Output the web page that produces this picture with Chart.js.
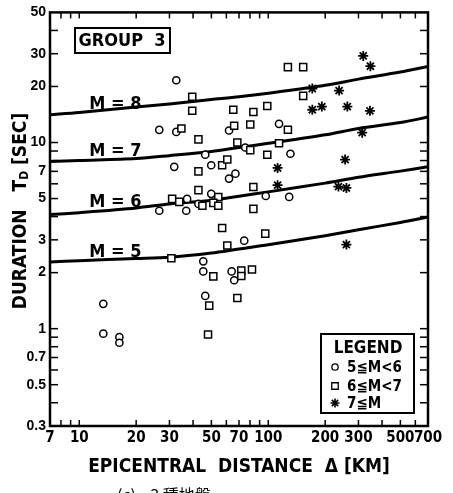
<!DOCTYPE html>
<html>
<head>
<meta charset="utf-8">
<script src="https://cdn.jsdelivr.net/npm/chart.js@4.4.1/dist/chart.umd.min.js"></script>
<style>
  html, body { margin: 0; padding: 0; background: #fff; }
  #wrap { width: 453px; height: 493px; position: relative; }
</style>
</head>
<body>
<div id="wrap"><canvas id="c" width="453" height="493"></canvas></div>
<script>
// ---------- data ----------
const curveDist = [7, 10, 20, 30, 50, 70, 100, 200, 300, 500, 700];
const curveM8 = [14.1, 14.5, 15.5, 16.1, 17.0, 17.6, 18.4, 20.3, 21.9, 23.9, 25.6];
const curveM7 = [7.9, 8.0, 8.2, 8.5, 8.95, 9.4, 9.9, 11.0, 11.9, 12.8, 13.7];
const curveM6 = [4.1, 4.2, 4.45, 4.68, 4.9, 5.15, 5.43, 6.05, 6.5, 7.02, 7.42];
const curveM5 = [2.28, 2.32, 2.38, 2.42, 2.55, 2.68, 2.82, 3.16, 3.4, 3.72, 3.98];
const magnitudes = [8, 7, 6, 5];
const mLabelDist = 11.3;
const mLabelDur = [15.2, 8.5, 4.5, 2.44];

const circleDist = [32.6, 26.5, 32.6, 62, 114, 46.4, 75.5, 131, 31.8, 49.9, 62, 67, 49.9, 37.2, 42.7, 26.5, 36.8, 97, 129, 74.6, 45.3, 45.3, 64, 66, 46.4, 13.4, 13.4, 16.3, 16.3];
const circleDur  = [21.6, 11.7, 11.4, 11.6, 12.6, 8.6, 9.4, 8.7, 7.4, 7.55, 6.4, 6.8, 5.3, 4.98, 4.68, 4.3, 4.3, 5.16, 5.1, 2.97, 2.3, 2.03, 2.03, 1.82, 1.5, 1.36, 0.94, 0.9, 0.84];

const squareDist = [39.6, 39.6, 34.7, 42.7, 42.7, 57, 60.7, 42.7, 31, 33.8, 54.4, 51.2, 44.8, 54.4, 127, 153, 153, 65.3, 83.4, 98.8, 66, 80.3, 127, 68.6, 80.3, 114, 98.8, 83.4, 83.4, 57, 60.7, 96.4, 30.7, 51.2, 48.7, 48, 72, 72, 82, 68.6];
const squareDur  = [17.6, 14.8, 11.9, 10.4, 7.0, 7.55, 8.1, 5.55, 4.98, 4.8, 5.1, 4.74, 4.57, 4.57, 25.4, 25.4, 17.8, 15.0, 14.6, 15.7, 12.3, 12.5, 11.7, 10.0, 9.1, 9.9, 8.6, 5.77, 4.4, 3.47, 2.8, 3.24, 2.39, 1.91, 1.33, 0.93, 2.05, 1.92, 2.08, 1.46];

const starDist = [318, 347, 171, 237, 171, 192, 262, 345, 314, 255, 112, 112, 235, 259, 259];
const starDur  = [29.2, 25.7, 19.5, 19.0, 15.0, 15.6, 15.6, 14.8, 11.3, 8.1, 7.3, 5.9, 5.8, 5.7, 2.83];

const xTickLabels = [7, 10, 20, 30, 50, 70, 100, 200, 300, 500, 700];
const yTickLabels = [0.3, 0.5, 0.7, 1, 2, 3, 5, 7, 10, 20, 30, 50];
const xTickMarks = [8, 9, 10, 20, 30, 40, 50, 60, 70, 80, 90, 100, 200, 300, 400, 500, 600];
const yTickMarks = [0.4, 0.5, 0.6, 0.7, 0.8, 0.9, 1, 2, 3, 4, 5, 6, 7, 8, 9, 10, 20, 30, 40];

const legendLabels = ['5≦M<6', '6≦M<7', '7≦M'];
const groupLabel = 'GROUP  3';
const xTitle = 'EPICENTRAL  DISTANCE  Δ [KM]';
const captionText = '(c)    3 種地盤';

// ---------- build ----------
const NARROW = "'Liberation Sans Narrow','DejaVu Sans Condensed','Liberation Sans',sans-serif";
const pts = (xs, ys) => xs.map((x, i) => ({ x: x, y: ys[i] }));
const curves = [curveM8, curveM7, curveM6, curveM5];

const scatterBase = { type: 'scatter', borderColor: '#000', backgroundColor: '#fff', showLine: false };
const datasets = [
  Object.assign({}, scatterBase, { label: legendLabels[2], data: pts(starDist, starDur), pointStyle: 'star', pointRadius: 5, borderWidth: 1.8 }),
  Object.assign({}, scatterBase, { label: legendLabels[1], data: pts(squareDist, squareDur), pointStyle: 'rect', pointRadius: 5, borderWidth: 1.5 }),
  Object.assign({}, scatterBase, { label: legendLabels[0], data: pts(circleDist, circleDur), pointStyle: 'circle', pointRadius: 3.6, borderWidth: 1.5 })
];
curves.forEach((c, i) => {
  datasets.push({
    type: 'line', label: 'M=' + magnitudes[i], data: pts(curveDist, c),
    borderColor: '#000', borderWidth: 3, pointRadius: 0, fill: false,
    tension: 0.3
  });
});

function line(ctx, x1, y1, x2, y2) { ctx.beginPath(); ctx.moveTo(x1, y1); ctx.lineTo(x2, y2); ctx.stroke(); }

const decor = {
  id: 'decor',
  afterDraw(chart) {
    const ctx = chart.ctx, ca = chart.chartArea;
    const xs = chart.scales.x, ys = chart.scales.y;
    ctx.save();
    ctx.strokeStyle = '#000'; ctx.fillStyle = '#000';
    // frame
    ctx.lineWidth = 2.5;
    ctx.strokeRect(ca.left, ca.top, ca.right - ca.left, ca.bottom - ca.top);
    // inside ticks
    ctx.lineWidth = 1.5;
    yTickMarks.forEach(v => {
      const y = ys.getPixelForValue(v);
      line(ctx, ca.left, y, ca.left + 8, y);
      line(ctx, ca.right, y, ca.right - 8, y);
    });
    xTickMarks.forEach(v => {
      const x = xs.getPixelForValue(v);
      line(ctx, x, ca.bottom, x, ca.bottom - 6);
      line(ctx, x, ca.top, x, ca.top + 6);
    });
    // M labels
    ctx.font = 'bold 18px ' + NARROW;
    ctx.textAlign = 'left'; ctx.textBaseline = 'alphabetic';
    magnitudes.forEach((m, i) => {
      ctx.fillText('M = ' + m, xs.getPixelForValue(mLabelDist), ys.getPixelForValue(mLabelDur[i]));
    });
    // group box
    ctx.lineWidth = 2;
    ctx.strokeRect(75, 28, 95, 25);
    ctx.font = 'bold 18px ' + NARROW;
    ctx.textAlign = 'center'; ctx.textBaseline = 'middle';
    ctx.fillText(groupLabel, 122, 41);
    // legend
    ctx.lineWidth = 2;
    ctx.fillStyle = '#fff';
    ctx.fillRect(321, 334, 93, 79);
    ctx.fillStyle = '#000';
    ctx.strokeRect(321, 334, 93, 79);
    ctx.font = 'bold 17px ' + NARROW;
    ctx.textAlign = 'center'; ctx.textBaseline = 'middle';
    ctx.fillText('LEGEND', 368, 349);
    const rows = [367, 386, 403];
    const styles = [['circle', 3.2, 1.3], ['rect', 4.6, 1.3], ['star', 4.5, 1.6]];
    ctx.font = 'bold 15px ' + NARROW;
    ctx.textAlign = 'left';
    rows.forEach((ry, i) => {
      ctx.lineWidth = styles[i][2];
      ctx.fillStyle = '#fff';
      Chart.helpers.drawPoint(ctx, { pointStyle: styles[i][0], radius: styles[i][1], rotation: 0, borderWidth: styles[i][2] }, 335, ry);
      ctx.fillStyle = '#000';
      ctx.fillText(legendLabels[i], 347, ry + 1);
    });
    // y title with subscript
    ctx.save();
    ctx.translate(21, 211);
    ctx.rotate(-Math.PI / 2);
    ctx.textBaseline = 'middle'; ctx.textAlign = 'left';
    const f1 = 'bold 19px ' + NARROW, f2 = 'bold 12px ' + NARROW;
    const parts = [['DURATION   T', f1, 0], ['D', f2, 4], [' [SEC]', f1, 0]];
    let total = 0;
    parts.forEach(p => { ctx.font = p[1]; total += ctx.measureText(p[0]).width; });
    let px = -total / 2;
    parts.forEach(p => { ctx.font = p[1]; ctx.fillText(p[0], px, p[2]); px += ctx.measureText(p[0]).width; });
    ctx.restore();
    // caption (cut at bottom)
    ctx.font = "16px 'Noto Sans CJK TC','Noto Sans CJK JP',sans-serif";
    ctx.textAlign = 'left'; ctx.textBaseline = 'top';
    ctx.fillText(captionText, 117, 487);
    ctx.restore();
  }
};

new Chart(document.getElementById('c'), {
  data: { datasets: datasets },
  options: {
    responsive: false,
    animation: false,
    layout: { padding: { left: 0, right: 25, top: 9, bottom: 0 } },
    plugins: { legend: { display: false }, tooltip: { enabled: false }, title: { display: false } },
    scales: {
      x: {
        type: 'logarithmic', position: 'bottom', min: 7, max: 700,
        grid: { display: false, drawTicks: false },
        border: { display: false },
        afterBuildTicks: s => { s.ticks = xTickLabels.map(v => ({ value: v })); },
        afterFit: s => { s.height = 67; },
        ticks: {
          autoSkip: false, maxRotation: 0, minRotation: 0, padding: 3, color: '#000',
          font: { family: NARROW, size: 15, weight: 'bold' },
          callback: v => String(v)
        },
        title: {
          display: true, text: xTitle, color: '#000',
          font: { family: NARROW, size: 19, weight: 'bold' },
          padding: { top: 0, bottom: 15 }
        }
      },
      y: {
        type: 'logarithmic', position: 'left', min: 0.3, max: 50,
        grid: { display: false, drawTicks: false },
        border: { display: false },
        afterBuildTicks: s => { s.ticks = yTickLabels.map(v => ({ value: v })); },
        afterFit: s => { s.width = 50; },
        ticks: {
          autoSkip: false, padding: 4, color: '#000',
          font: { family: "'Liberation Sans','DejaVu Sans',sans-serif", size: 14, weight: 'bold' },
          callback: v => String(v)
        }
      }
    }
  },
  plugins: [decor]
});
</script>
</body>
</html>
